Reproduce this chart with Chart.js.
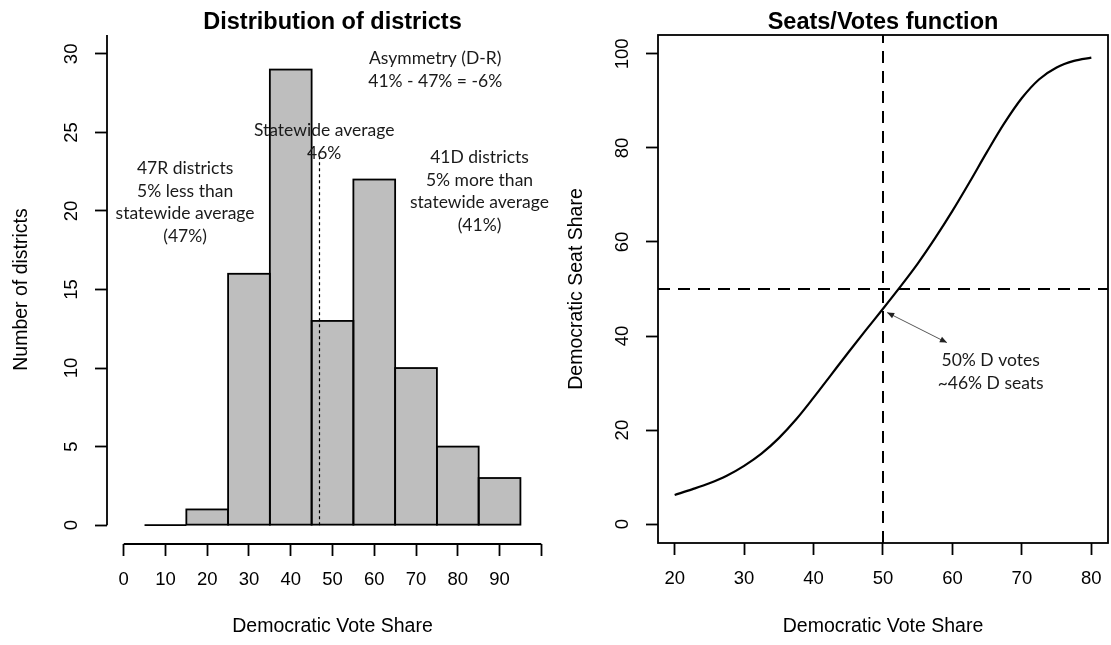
<!DOCTYPE html>
<html><head><meta charset="utf-8">
<script src="https://cdn.jsdelivr.net/npm/chart.js@4"></script>
<style>
html,body{margin:0;padding:0;background:#fff;}
#wrap{position:relative;width:1111px;height:645px;overflow:hidden;}
canvas{position:absolute;top:0;}
#c1{left:0;} #c2{left:560px;}
</style></head><body>
<div id="wrap"><canvas id="c1" width="560" height="645"></canvas><canvas id="c2" width="551" height="645"></canvas></div>
<script>
// ---------- data ----------
const binStarts = [5, 15, 25, 35, 45, 55, 65, 75, 85];
const binWidth = 10;
const districtCounts = [0, 1, 16, 29, 13, 22, 10, 5, 3];
const histXTicks = [0, 10, 20, 30, 40, 50, 60, 70, 80, 90, 100];
const histXLabels = ['0', '10', '20', '30', '40', '50', '60', '70', '80', '90', ''];
const histYTicks = [0, 5, 10, 15, 20, 25, 30];
const histYLabels = ['0', '5', '10', '15', '20', '25', '30'];
const statewideAverage = 46.8;
const averageLineTop = 23.6;

const voteShare = [20, 22.5, 25, 27.5, 30, 32.5, 35, 37.5, 40, 42.5, 45, 47.5, 50, 52.5, 55, 57.5, 60, 62.5, 65, 67.5, 70, 72.5, 75, 77.5, 80];
const seatShare = [6.2, 7.4, 8.7, 10.3, 12.4, 15.0, 18.3, 22.3, 26.9, 31.7, 36.5, 41.2, 45.8, 50.5, 55.4, 60.8, 66.6, 72.8, 79.2, 85.3, 90.6, 94.6, 97.1, 98.5, 99.2];
const svXTicks = [20, 30, 40, 50, 60, 70, 80];
const svXLabels = ['20', '30', '40', '50', '60', '70', '80'];
const svYTicks = [0, 20, 40, 60, 80, 100];
const svYLabels = ['0', '20', '40', '60', '80', '100'];
const refVote = 50;
const refSeat = 50;

// ---------- annotations (data coordinates) ----------
const histNotes = [
  {x: 74.6, y: 29.7, lines: ['Asymmetry (D-R)', '41% - 47% = -6%']},
  {x: 48.0, y: 25.1, lines: ['Statewide average', '46%']},
  {x: 14.7, y: 22.7, lines: ['47R districts', '5% less than', 'statewide average', '(47%)']},
  {x: 85.2, y: 23.4, lines: ['41D districts', '5% more than', 'statewide average', '(41%)']}
];
const svNote = {x: 65.5, y: 34.8, lines: ['50% D votes', '~46% D seats']};
const svArrow = {from: [50.6, 45.0], to: [59.2, 38.6]};

// ---------- styles ----------
const AX_FONT = 'Liberation Sans, Arial, sans-serif';
const NOTE_FONT = '17.5px Lato, "Open Sans", sans-serif';
const NOTE_LH = 22.5;

function drawNotes(ctx, xs, ys, notes) {
  ctx.save();
  ctx.font = NOTE_FONT;
  ctx.fillStyle = '#1a1a1a';
  ctx.textAlign = 'center';
  ctx.textBaseline = 'middle';
  notes.forEach(n => {
    const px = xs.getPixelForValue(n.x);
    const py = ys.getPixelForValue(n.y);
    n.lines.forEach((t, i) => ctx.fillText(t, px, py + i * NOTE_LH));
  });
  ctx.restore();
}

function tickSetter(list) {
  return s => { s.ticks = list.map(v => ({value: v})); };
}

function axisCommon(extra) {
  return Object.assign({
    type: 'linear',
    offset: false,
    grid: {display: true, drawOnChartArea: false, drawTicks: true, tickLength: 12, tickWidth: 1.8, tickColor: '#000', offset: false},
    border: {display: false}
  }, extra);
}

function fitX(h) {
  return s => { s.height = h; s.paddingLeft = 0; s.paddingRight = 0; };
}
function fitY(w) {
  return s => { s.width = w; s.paddingTop = 0; s.paddingBottom = 0; };
}

// ---------- left: histogram ----------
const histDecor = {
  id: 'histDecor',
  afterDatasetsDraw(chart) {
    const {ctx, chartArea: a, scales: {x, y}} = chart;
    ctx.save();
    ctx.strokeStyle = '#000';
    ctx.lineWidth = 1.8;
    chart.getDatasetMeta(0).data.forEach(el => {
      const p = el.getProps(['x', 'y', 'base', 'width'], true);
      ctx.strokeRect(p.x - p.width / 2, Math.min(p.y, p.base), p.width, Math.abs(p.base - p.y));
    });
    // statewide average dotted line
    ctx.lineWidth = 1.2;
    ctx.setLineDash([3, 3]);
    const ax = Math.round(x.getPixelForValue(statewideAverage)) + 0.5;
    ctx.beginPath();
    ctx.moveTo(ax, y.getPixelForValue(0));
    ctx.lineTo(ax, y.getPixelForValue(averageLineTop));
    ctx.stroke();
    ctx.setLineDash([]);
    // axis lines
    ctx.lineWidth = 1.8;
    ctx.beginPath();
    ctx.moveTo(x.getPixelForValue(histXTicks[0]), a.bottom);
    ctx.lineTo(x.getPixelForValue(histXTicks[histXTicks.length - 1]), a.bottom);
    ctx.moveTo(a.left, y.getPixelForValue(histYTicks[0]));
    ctx.lineTo(a.left, a.top);
    ctx.stroke();
    ctx.restore();
    drawNotes(ctx, x, y, histNotes);
  }
};

new Chart(document.getElementById('c1'), {
  type: 'bar',
  data: {
    datasets: [{
      data: binStarts.map((s, i) => ({x: s + binWidth / 2, y: districtCounts[i]})),
      backgroundColor: '#bebebe',
      borderWidth: 0,
      barPercentage: 1,
      categoryPercentage: 1
    }]
  },
  options: {
    responsive: false, animation: false, events: [],
    layout: {padding: {left: 0, right: 2, top: 0, bottom: 0}},
    plugins: {
      legend: {display: false}, tooltip: {enabled: false},
      title: {display: true, fullSize: false, text: 'Distribution of districts', color: '#000',
        font: {family: AX_FONT, size: 23.5, weight: 'bold', lineHeight: 1}, padding: {top: 11.25, bottom: 0.25}}
    },
    scales: {
      x: axisCommon({
        min: -4, max: 104,
        afterBuildTicks: tickSetter(histXTicks),
        afterFit: fitX(101),
        ticks: {font: {family: AX_FONT, size: 18.5}, color: '#000', padding: 13, maxRotation: 0, autoSkip: false,
          callback: (v, i) => histXLabels[i]},
        title: {display: true, text: 'Democratic Vote Share', color: '#000', font: {family: AX_FONT, size: 19.5}, padding: {top: 0, bottom: 6.3}}
      }),
      y: axisCommon({
        min: -1.2, max: 31.2,
        afterBuildTicks: tickSetter(histYTicks),
        afterFit: fitY(107),
        ticks: {font: {family: AX_FONT, size: 18.5}, color: '#000', padding: 13, minRotation: 90, maxRotation: 90, crossAlign: 'center', autoSkip: false,
          callback: (v, i) => histYLabels[i]},
        title: {display: true, text: 'Number of districts', color: '#000', font: {family: AX_FONT, size: 19.5}, padding: {top: 10.3, bottom: 0}}
      })
    }
  },
  plugins: [histDecor]
});

// ---------- right: seats/votes ----------
const SV_XMIN = 17.6, SV_XMAX = 82.4, SV_YMIN = -4, SV_YMAX = 104;

function arrowHead(ctx, x1, y1, x2, y2) {
  const ang = Math.atan2(y2 - y1, x2 - x1);
  const L = 7, W = 3;
  ctx.beginPath();
  ctx.moveTo(x2, y2);
  ctx.lineTo(x2 - L * Math.cos(ang) + W * Math.sin(ang), y2 - L * Math.sin(ang) - W * Math.cos(ang));
  ctx.lineTo(x2 - L * Math.cos(ang) - W * Math.sin(ang), y2 - L * Math.sin(ang) + W * Math.cos(ang));
  ctx.closePath();
  ctx.fill();
}

const svDecor = {
  id: 'svDecor',
  afterDatasetsDraw(chart) {
    const {ctx, chartArea: a, scales: {x, y}} = chart;
    ctx.save();
    ctx.strokeStyle = '#000';
    ctx.lineWidth = 1.8;
    ctx.strokeRect(a.left, a.top, a.right - a.left, a.bottom - a.top);
    // arrow
    const x1 = x.getPixelForValue(svArrow.from[0]), y1 = y.getPixelForValue(svArrow.from[1]);
    const x2 = x.getPixelForValue(svArrow.to[0]), y2 = y.getPixelForValue(svArrow.to[1]);
    ctx.strokeStyle = '#444';
    ctx.fillStyle = '#222';
    ctx.lineWidth = 0.9;
    ctx.beginPath(); ctx.moveTo(x1, y1); ctx.lineTo(x2, y2); ctx.stroke();
    arrowHead(ctx, x1, y1, x2, y2);
    arrowHead(ctx, x2, y2, x1, y1);
    ctx.restore();
    drawNotes(ctx, x, y, [svNote]);
  }
};

new Chart(document.getElementById('c2'), {
  type: 'scatter',
  data: {
    datasets: [
      {data: [{x: SV_XMIN, y: refSeat}, {x: SV_XMAX, y: refSeat}], showLine: true, borderColor: '#000', borderWidth: 2, borderDash: [12, 8], pointRadius: 0},
      {data: [{x: refVote, y: SV_YMIN}, {x: refVote, y: SV_YMAX}], showLine: true, borderColor: '#000', borderWidth: 2, borderDash: [12, 8], pointRadius: 0},
      {data: voteShare.map((v, i) => ({x: v, y: seatShare[i]})), showLine: true, borderColor: '#000', borderWidth: 2.2, pointRadius: 0, cubicInterpolationMode: 'monotone'}
    ]
  },
  options: {
    responsive: false, animation: false, events: [],
    layout: {padding: {left: 0, right: 3, top: 0, bottom: 0}},
    plugins: {
      legend: {display: false}, tooltip: {enabled: false},
      title: {display: true, fullSize: false, text: 'Seats/Votes function', color: '#000',
        font: {family: AX_FONT, size: 23.5, weight: 'bold', lineHeight: 1}, padding: {top: 11.25, bottom: 0.25}}
    },
    scales: {
      x: axisCommon({
        min: SV_XMIN, max: SV_XMAX,
        afterBuildTicks: tickSetter(svXTicks),
        afterFit: fitX(102),
        ticks: {font: {family: AX_FONT, size: 18.5}, color: '#000', padding: 13, maxRotation: 0, autoSkip: false,
          callback: (v, i) => svXLabels[i]},
        title: {display: true, text: 'Democratic Vote Share', color: '#000', font: {family: AX_FONT, size: 19.5}, padding: {top: 0, bottom: 6.3}}
      }),
      y: axisCommon({
        min: SV_YMIN, max: SV_YMAX,
        afterBuildTicks: tickSetter(svYTicks),
        afterFit: fitY(98),
        ticks: {font: {family: AX_FONT, size: 18.5}, color: '#000', padding: 8, minRotation: 90, maxRotation: 90, crossAlign: 'center', autoSkip: false,
          callback: (v, i) => svYLabels[i]},
        title: {display: true, text: 'Democratic Seat Share', color: '#000', font: {family: AX_FONT, size: 19.5}, padding: {top: 5.3, bottom: 0}}
      })
    }
  },
  plugins: [svDecor]
});
</script>
</body></html>
